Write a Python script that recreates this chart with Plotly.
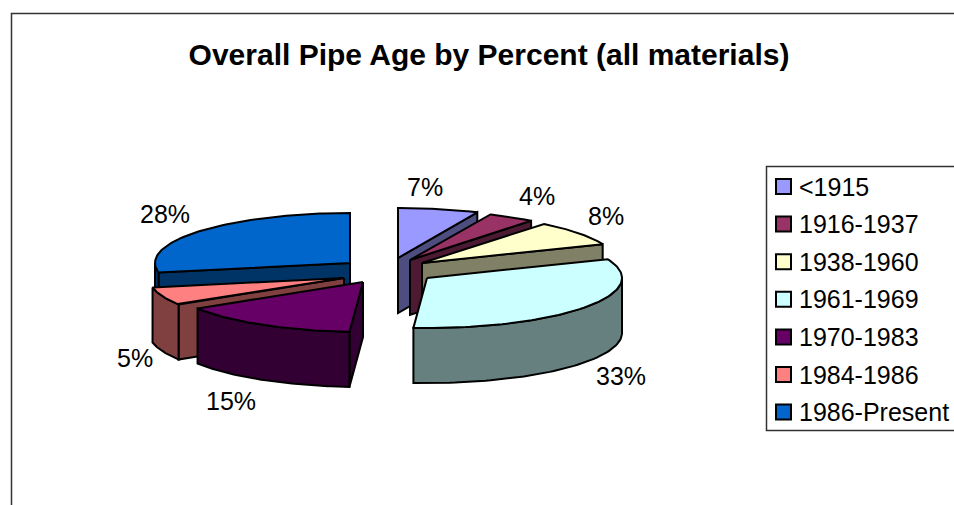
import numpy as np
import plotly.graph_objects as go

# Pipe age shares, in percent, in drawing order around the pie
periods = ["<1915", "1916-1937", "1938-1960", "1961-1969", "1970-1983", "1984-1986", "1986-Present"]
shares = [7, 4, 8, 33, 15, 5, 28]
top_colors = ["#9999FF", "#993366", "#FFFFCC", "#CCFFFF", "#660066", "#FF8080", "#0066CC"]
wall_colors = ["#4D4D80", "#4D1A33", "#808066", "#668080", "#330033", "#804040", "#003366"]

# Pie geometry in page pixels
CENTER = (388, 270)
RX, RY, DEPTH = 195, 50, 55
EXPLODE = [(10, -12), (22, -10), (34, -7), (39, 8), (-25, 12), (-44, 8), (-38, -7)]
LABEL_POS = [(425, 187), (537, 196), (606, 216), (621, 376), (231, 401), (135, 358), (165, 214)]
PAINT_ORDER = [6, 5, 4, 0, 1, 2, 3]
FONT = "Liberation Sans, Arial, sans-serif"


def view_angle(deg):
    # Slight foreshortening of the rim as seen from the tilted viewpoint
    return deg + np.interp(deg, [0, 25, 40, 68, 140, 187, 241, 260, 360],
                           [0, -1.2, -1.2, -0.5, 0, -3.2, -3.2, 0, 0])


def rim(apex, deg):
    t = np.radians(view_angle(np.asarray(deg, dtype=float)))
    return apex[0] + RX * np.sin(t), apex[1] - RY * np.cos(t)


def add_poly(fig, xs, ys, color):
    fig.add_trace(go.Scatter(x=np.append(xs, xs[0]), y=np.append(ys, ys[0]), mode="lines",
                             fill="toself", fillcolor=color,
                             line=dict(color="black", width=2), hoverinfo="skip", showlegend=False))


def add_wedge(fig, i, start, end):
    apex = (CENTER[0] + EXPLODE[i][0], CENTER[1] + EXPLODE[i][1])
    wall = wall_colors[i]
    # End wall shows on the right half, start wall on the left half
    if 0 < end < 180:
        x, y = rim(apex, end)
        add_poly(fig, np.array([apex[0], x, x, apex[0]]),
                 np.array([apex[1], y, y + DEPTH, apex[1] + DEPTH]), wall)
    if 180 < start < 360:
        x, y = rim(apex, start)
        add_poly(fig, np.array([apex[0], x, x, apex[0]]),
                 np.array([apex[1], y, y + DEPTH, apex[1] + DEPTH]), wall)
    # Outer wall only where the rim faces the viewer
    a, b = max(start, 90), min(end, 270)
    if a < b:
        xs, ys = rim(apex, np.linspace(a, b, 60))
        add_poly(fig, np.r_[xs, xs[::-1]], np.r_[ys, ys[::-1] + DEPTH], wall)
    # Top face
    xs, ys = rim(apex, np.linspace(start, end, 80))
    add_poly(fig, np.r_[apex[0], xs], np.r_[apex[1], ys], top_colors[i])


fig = go.Figure()
edges = np.cumsum([0] + shares) / sum(shares) * 360
for i in PAINT_ORDER:
    add_wedge(fig, i, edges[i], edges[i + 1])

annotations = [
    dict(x=px, y=py, text=f"{v}%", showarrow=False, xref="x", yref="y",
         xanchor="center", yanchor="middle", font=dict(family=FONT, size=25, color="black"))
    for v, (px, py) in zip(shares, LABEL_POS)
]

# Legend column
LEG_BOX = dict(x0=766.5, y0=166.5, x1=1000, y1=430.5)
leg_y = 186.5 + 37.6 * np.arange(len(periods))
fig.add_trace(go.Scatter(x=[783.5] * len(periods), y=leg_y, mode="markers",
                         marker=dict(symbol="square", size=15, color=top_colors,
                                     line=dict(color="black", width=2)),
                         hoverinfo="skip", showlegend=False))
for name, y in zip(periods, leg_y):
    annotations.append(dict(x=797, y=y, text=name.replace("<", "&lt;"), showarrow=False, xref="x", yref="y",
                            xanchor="left", yanchor="middle",
                            font=dict(family=FONT, size=25, color="black")))

shapes = [
    dict(type="rect", xref="x", yref="y", x0=11.5, y0=13.5, x1=1000, y1=600,
         line=dict(color="#333333", width=1.5), layer="below"),
    dict(type="rect", xref="x", yref="y", **LEG_BOX,
         line=dict(color="#333333", width=1.5), layer="below"),
]

fig.update_layout(
    width=954, height=505, margin=dict(l=0, r=0, t=0, b=0),
    paper_bgcolor="white", plot_bgcolor="white", showlegend=False,
    title=dict(text="<b>Overall Pipe Age by Percent (all materials)</b>",
               x=489 / 954, y=1 - 54 / 505, xanchor="center", yanchor="middle",
               font=dict(family=FONT, size=30, color="black")),
    xaxis=dict(range=[0, 954], visible=False, fixedrange=True),
    yaxis=dict(range=[505, 0], visible=False, fixedrange=True),
    annotations=annotations, shapes=shapes,
)
fig.write_html("out.html", config=dict(displayModeBar=False))
